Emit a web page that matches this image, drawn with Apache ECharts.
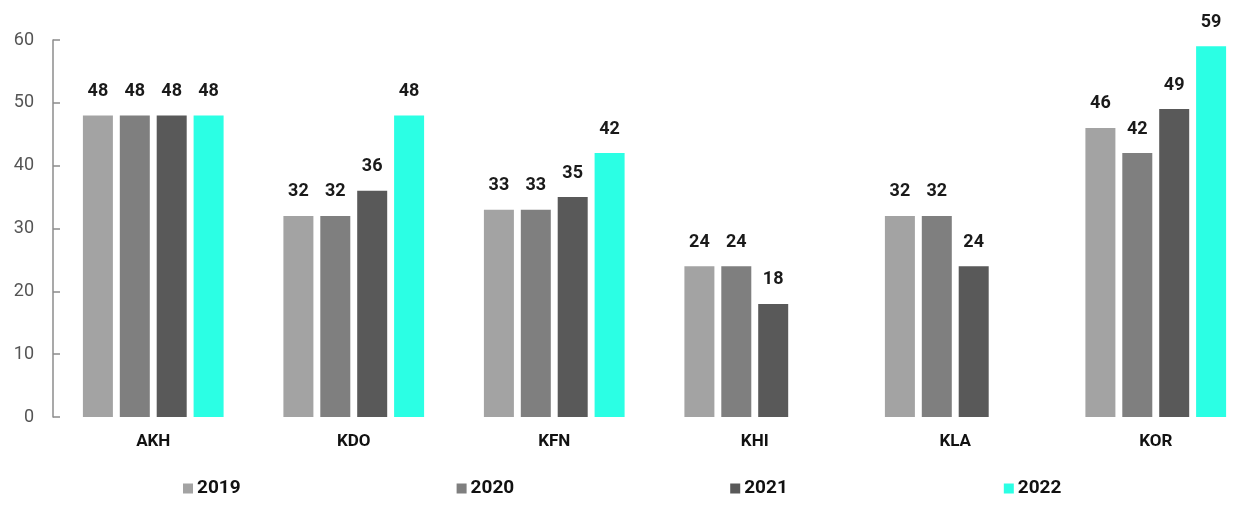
<!DOCTYPE html>
<html>
<head>
<meta charset="utf-8">
<script src="https://cdn.jsdelivr.net/npm/echarts@6/dist/echarts.min.js"></script>
<style>
  html, body { margin: 0; padding: 0; background: #ffffff; overflow: hidden; }
  #chart { width: 1258px; height: 506px; }
</style>
</head>
<body>
<div id="chart"></div>
<script>
// Categories and yearly values
const categories = ['AKH', 'KDO', 'KFN', 'KHI', 'KLA', 'KOR'];
const years = ['2019', '2020', '2021', '2022'];
const values2019 = [48, 32, 33, 24, 32, 46];
const values2020 = [48, 32, 33, 24, 32, 42];
const values2021 = [48, 36, 35, 18, 24, 49];
const values2022 = [48, 48, 42, null, null, 59];
const yTicks = [0, 10, 20, 30, 40, 50, 60];

const seriesValues = [values2019, values2020, values2021, values2022];
const colors = ['#a3a3a3', '#7f7f7f', '#595959', '#2bffe4'];
const FONT = 'Roboto, "Liberation Sans", Arial, sans-serif';

const chart = echarts.init(document.getElementById('chart'), null, { renderer: 'canvas' });

chart.setOption({
  animation: false,
  color: colors,
  textStyle: { fontFamily: FONT },
  grid: { left: 53, top: 40, right: 2, bottom: 89, containLabel: false },
  legend: {
    data: years,
    left: 178,
    bottom: 3,
    itemWidth: 10,
    itemHeight: 10,
    itemGap: 216,
    icon: 'rect',
    textStyle: { fontFamily: FONT, fontSize: 19, fontWeight: 'bold', color: '#111', padding: [0, 0, 0, -1] }
  },
  xAxis: {
    type: 'category',
    data: categories,
    axisLine: { show: false },
    axisTick: { show: false },
    axisLabel: { fontFamily: FONT, fontSize: 17, fontWeight: 'bold', color: '#111', margin: 16 }
  },
  yAxis: {
    type: 'value',
    min: 0,
    max: 60,
    interval: 10,
    axisLine: { show: true, lineStyle: { color: '#8c8c8c', width: 1.5 } },
    axisTick: { show: true, inside: true, length: 7, lineStyle: { color: '#8c8c8c', width: 1.5 } },
    splitLine: { show: false },
    axisLabel: {
      fontFamily: FONT, fontSize: 18, color: '#555', margin: 19,
      formatter: v => (yTicks.includes(v) ? String(v) : '')
    }
  },
  series: years.map((y, i) => ({
    name: y,
    type: 'bar',
    data: seriesValues[i],
    barWidth: 30,
    barGap: '23%',
    itemStyle: { color: colors[i] },
    label: {
      show: true,
      position: 'top',
      distance: 15,
      fontFamily: FONT,
      fontSize: 18,
      fontWeight: 'bold',
      color: '#1a1a1a'
    }
  }))
});
</script>
</body>
</html>
